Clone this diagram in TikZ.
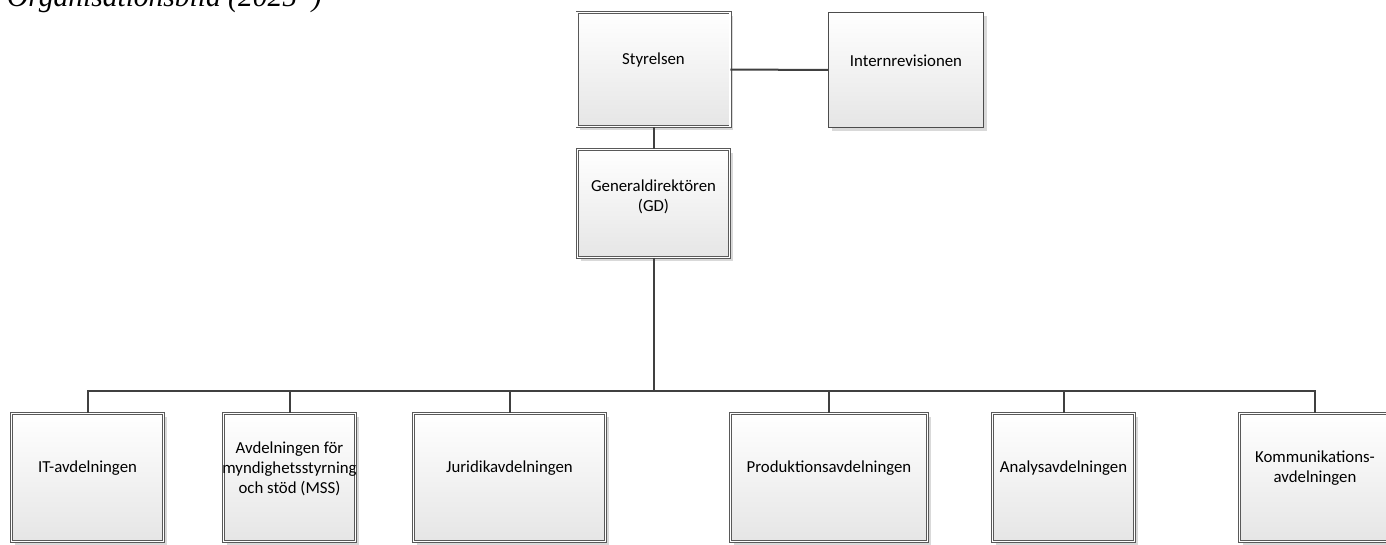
\documentclass[tikz,border=0pt]{standalone}
\usepackage{fontspec}
\setmainfont{Carlito}
\newfontfamily\capfont{Liberation Serif}
\usetikzlibrary{shadows}

\begin{document}
\begin{tikzpicture}[x=1pt,y=-1pt,
  unitbox/.style={draw=black!65,line width=0.7pt,double=white,double distance=1.6pt,
    top color=white,bottom color=black!10,inner sep=0,
    drop shadow={shadow xshift=3pt,shadow yshift=-3pt,fill=black!15,opacity=1}},
  plainbox/.style={draw=black!70,line width=0.8pt,
    top color=white,bottom color=black!10,inner sep=0,
    drop shadow={shadow xshift=3pt,shadow yshift=-3pt,fill=black!15,opacity=1}},
  txt/.style={font=\fontsize{16.8}{20}\selectfont,align=center,yshift=9pt,inner sep=0},
  link/.style={draw=black!75,line width=2pt}]
  \useasboundingbox (0,0) rectangle (1386,544);
  \node[anchor=base west,inner sep=0,font=\capfont\itshape\fontsize{29.5}{32}\selectfont]
    (title) at (7,6) {Organisationsbild (2025–)};
  % ledning
  \node[unitbox,minimum width=153,minimum height=114,label={[txt]center:Styrelsen}]
    (styr) at (653.5,69.5) {};
  \node[plainbox,minimum width=155,minimum height=115,label={[txt]center:Internrevisionen}]
    (intern) at (906,70) {};
  \node[unitbox,minimum width=152,minimum height=108,
    label={[txt,yshift=-2pt]center:Generaldirektören\\(GD)}] (gd) at (653.5,203.5) {};
  \draw[link] (styr) -- (intern);
  \draw[link] (styr) -- (gd);
  \coordinate (bus) at (653.5,391);
  \draw[link] (gd) -- (bus);
  % avdelningar
  \foreach \name/\x/\w/\txt in {
    it/87.5/155/{IT-avdelningen},
    mss/289.5/135/{Avdelningen för\\myndighetsstyrning\\och stöd (MSS)},
    jur/509.5/195/{Juridikavdelningen},
    prod/829/200/{Produktionsavdelningen},
    ana/1063.5/145/{Analysavdelningen},
    kom/1315/154/{Kommunikations-\\avdelningen}} {
    \node[unitbox,minimum width=\w-3,minimum height=128,label={[txt]center:\txt}]
      (\name) at (\x,477.5) {};
    \draw[link] (bus) -| (\name.north);
  }
\end{tikzpicture}
\end{document}
